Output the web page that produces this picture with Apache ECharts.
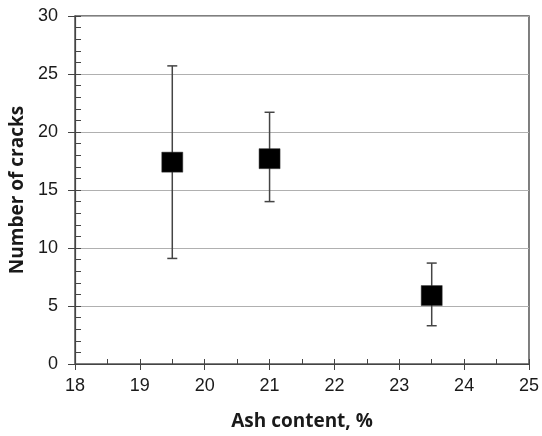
<!DOCTYPE html>
<html>
<head>
<meta charset="utf-8">
<script src="https://cdn.jsdelivr.net/npm/echarts@6/dist/echarts.min.js"></script>
<style>
html,body{margin:0;padding:0;background:#fff;}
#chart{width:542px;height:436px;}
</style>
</head>
<body>
<div id="chart"></div>
<script>
var ashContent = [19.5, 21, 23.5];
var cracks = [17.4, 17.7, 5.9];
var cracksUpper = [25.7, 21.7, 8.7];
var cracksLower = [9.1, 14.0, 3.3];
var xTicks = [18, 19, 20, 21, 22, 23, 24, 25];
var yTicks = [0, 5, 10, 15, 20, 25, 30];

var pointData = ashContent.map(function (x, i) { return [x, cracks[i]]; });
var errData = ashContent.map(function (x, i) { return [x, cracksLower[i], cracksUpper[i]]; });

var chart = echarts.init(document.getElementById('chart'));
var labelFont = { fontFamily: 'Liberation Sans, Arial, sans-serif', fontSize: 18, color: '#1a1a1a' };
chart.setOption({
  animation: false,
  backgroundColor: '#fff',
  grid: { left: 75, right: 11, top: 16, bottom: 70, show: true, borderColor: '#555', borderWidth: 1.5, backgroundColor: 'transparent' },
  xAxis: [{
    type: 'value', min: xTicks[0], max: xTicks[xTicks.length - 1], interval: 1,
    name: 'Ash content, %', nameLocation: 'middle', nameGap: 48,
    nameTextStyle: { fontFamily: 'Open Sans, sans-serif', fontWeight: 'bold', fontSize: 19, color: '#1a1a1a' },
    axisLine: { lineStyle: { color: '#444', width: 1.2 } },
    axisTick: { show: true, length: 6, lineStyle: { color: '#444' } },
    axisLabel: Object.assign({ margin: 13 }, labelFont),
    splitLine: { show: false }
  }, {
    type: 'value', min: xTicks[0], max: xTicks[xTicks.length - 1], interval: 0.5, position: 'bottom',
    axisLine: { show: false },
    axisTick: { show: true, inside: true, length: 5, lineStyle: { color: '#444' } },
    axisLabel: { show: false }, splitLine: { show: false }
  }],
  yAxis: [{
    type: 'value', min: yTicks[0], max: yTicks[yTicks.length - 1], interval: 5,
    name: 'Number of cracks', nameLocation: 'middle', nameGap: 46,
    nameTextStyle: { fontFamily: 'Open Sans, sans-serif', fontWeight: 'bold', fontSize: 19, color: '#1a1a1a' },
    axisLine: { show: true, lineStyle: { color: '#444', width: 1.2 } },
    axisTick: { show: true, length: 7, lineStyle: { color: '#444' } },
    axisLabel: Object.assign({ margin: 17 }, labelFont),
    splitLine: { show: true, lineStyle: { color: '#b0b0b0', width: 1.2 } }
  }, {
    type: 'value', min: yTicks[0], max: yTicks[yTicks.length - 1], interval: 1, position: 'left',
    axisLine: { show: false },
    axisTick: { show: true, inside: true, length: 6, lineStyle: { color: '#444' } },
    axisLabel: { show: false }, splitLine: { show: false }
  }],
  series: [{
    type: 'custom',
    data: errData,
    z: 2,
    renderItem: function (params, api) {
      var x = api.value(0);
      var lo = api.coord([x, api.value(1)]);
      var hi = api.coord([x, api.value(2)]);
      var cap = 5;
      var style = { stroke: '#444', lineWidth: 1.5 };
      return {
        type: 'group',
        children: [
          { type: 'line', shape: { x1: hi[0], y1: hi[1], x2: lo[0], y2: lo[1] }, style: style },
          { type: 'line', shape: { x1: hi[0] - cap, y1: hi[1], x2: hi[0] + cap, y2: hi[1] }, style: style },
          { type: 'line', shape: { x1: lo[0] - cap, y1: lo[1], x2: lo[0] + cap, y2: lo[1] }, style: style }
        ]
      };
    }
  }, {
    type: 'scatter',
    data: pointData,
    symbol: 'rect',
    symbolSize: [21, 20],
    z: 3,
    itemStyle: { color: '#000', opacity: 1, borderColor: '#333', borderWidth: 0.5 }
  }]
});
</script>
</body>
</html>
